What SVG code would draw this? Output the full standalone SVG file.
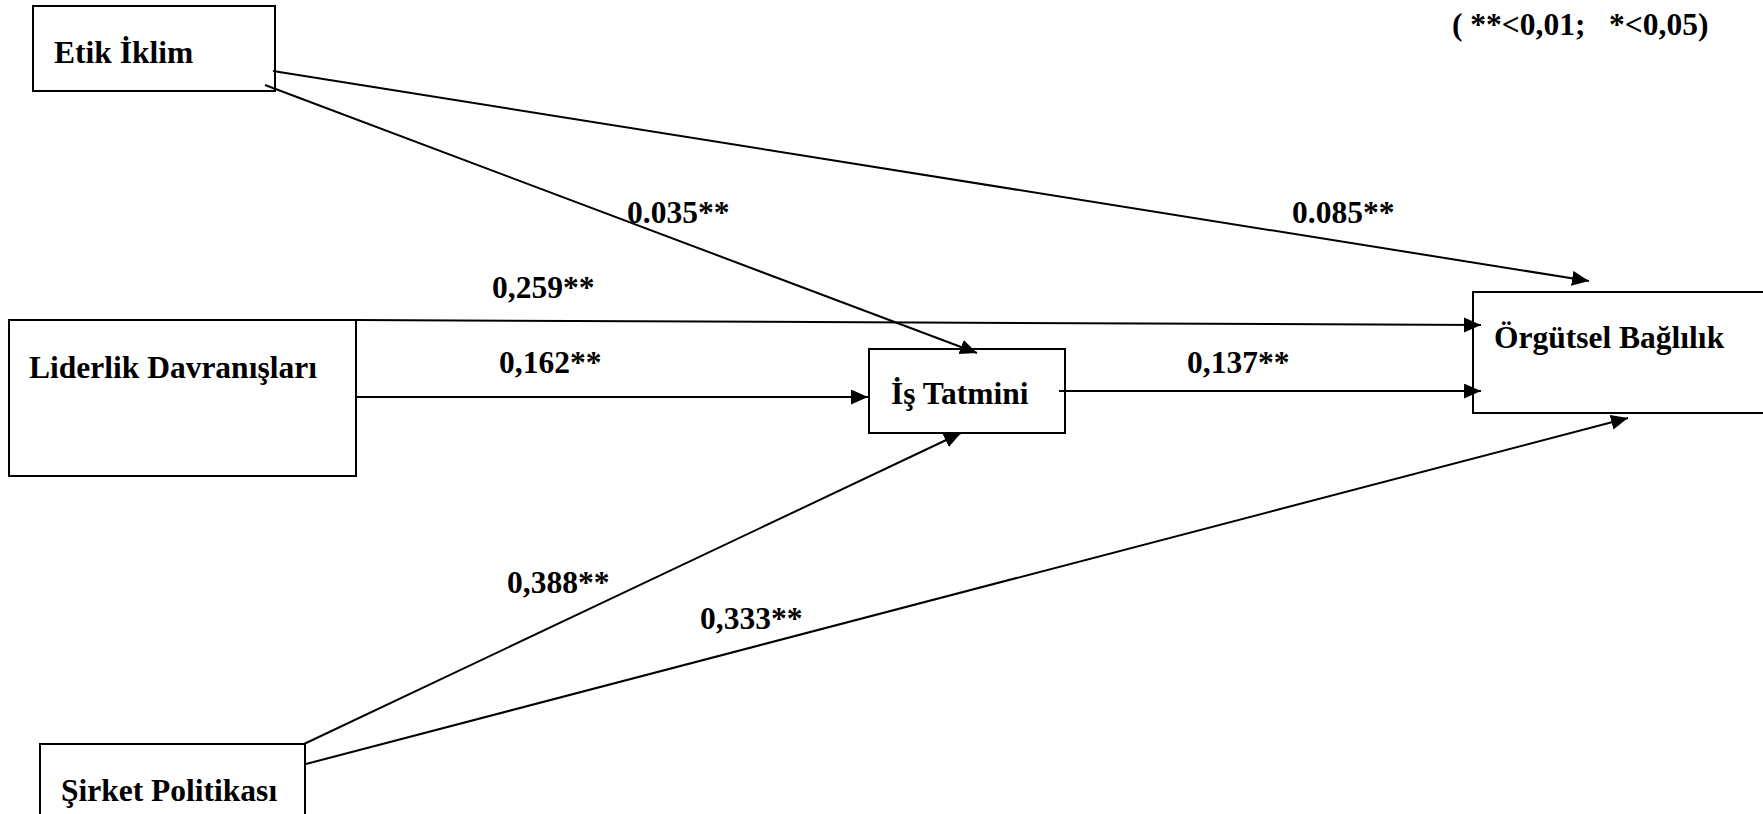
<svg xmlns="http://www.w3.org/2000/svg" width="1763" height="814" viewBox="0 0 1763 814">
<style>
.box{fill:#fff;stroke:#000;stroke-width:2}
.t{font-family:"Liberation Serif","Times New Roman",serif;font-weight:bold;font-size:31.5px;fill:#000}
.c{stroke:#000;stroke-width:2;fill:none;marker-end:url(#ah)}
</style>
<defs>
<marker id="ah" markerUnits="userSpaceOnUse" markerWidth="18" markerHeight="16" refX="17" refY="7.5" orient="auto">
<path d="M0,0 L17,7.5 L0,15 Z" fill="#000"/>
</marker>
</defs>
<rect width="1763" height="814" fill="#fff"/>
<g id="etik">
<rect class="box" x="33" y="6" width="242" height="85"/>
<text class="t" x="54" y="63">Etik İklim</text>
</g>
<g id="liderlik">
<rect class="box" x="9" y="320" width="347" height="156"/>
<text class="t" x="29" y="378">Liderlik Davranışları</text>
</g>
<g id="sirket">
<rect class="box" x="40" y="744" width="265" height="80"/>
<text class="t" x="61" y="801">Şirket Politikası</text>
</g>
<g id="istatmini">
<rect class="box" x="869" y="349" width="196" height="84"/>
<text class="t" x="891" y="404">İş Tatmini</text>
</g>
<g id="orgutsel">
<rect class="box" x="1473" y="292" width="300" height="121"/>
<text class="t" x="1494" y="348">Örgütsel Bağlılık</text>
</g>
<g id="connectors">
<line class="c" x1="273" y1="71" x2="1589" y2="281"/>
<line class="c" x1="265" y1="85" x2="977" y2="353"/>
<polyline class="c" points="356,320 1481,325"/>
<line class="c" x1="356" y1="397" x2="868" y2="397"/>
<line class="c" x1="1059" y1="391" x2="1481" y2="391"/>
<line class="c" x1="304" y1="744" x2="961" y2="433"/>
<line class="c" x1="306" y1="764" x2="1628" y2="418"/>
</g>
<g id="labels">
<text class="t" x="627" y="223">0.035**</text>
<text class="t" x="1292" y="223">0.085**</text>
<text class="t" x="492" y="298">0,259**</text>
<text class="t" x="499" y="373">0,162**</text>
<text class="t" x="1187" y="373">0,137**</text>
<text class="t" x="507" y="593">0,388**</text>
<text class="t" x="700" y="629">0,333**</text>
<text class="t" x="1452" y="35" xml:space="preserve">( **&lt;0,01;   *&lt;0,05)</text>
</g>
</svg>
